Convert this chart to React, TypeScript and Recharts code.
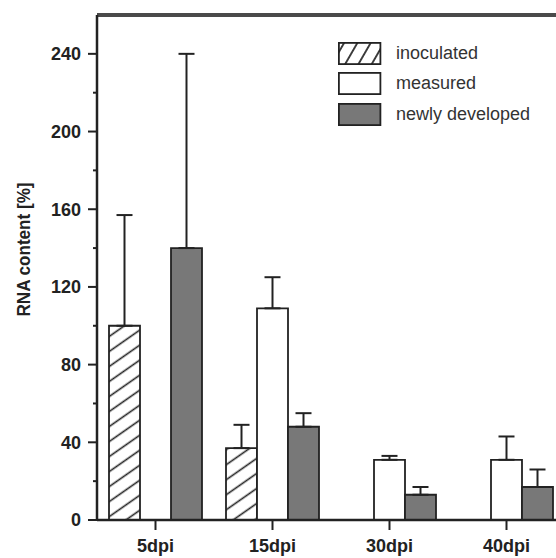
import React from "react";
import { BarChart, Bar, XAxis, YAxis, ErrorBar, ReferenceLine, Legend } from "recharts";

const categories = ["5dpi", "15dpi", "30dpi", "40dpi"];

// bar heights in % (null = no bar)
const inoculated = [100, 37, null, null];
const measured = [null, 109, 31, 31];
const newlyDeveloped = [140, 48, 13, 17];

// upper error (only drawn upwards)
const inoculatedErr = [57, 12, null, null];
const measuredErr = [null, 16, 2, 12];
const newlyDevelopedErr = [100, 7, 4, 9];

const yTicks = [0, 20, 40, 60, 80, 100, 120, 140, 160, 180, 200, 220, 240];
const yMax = 260;

const data = categories.map((name, i) => ({
  name,
  inoculated: inoculated[i],
  measured: measured[i],
  newlyDeveloped: newlyDeveloped[i],
  inoculatedErr: inoculatedErr[i],
  measuredErr: measuredErr[i],
  newlyDevelopedErr: newlyDevelopedErr[i],
}));

const INK = "#222";
const GREY = "#787878";
const FONT = "Arial, 'Liberation Sans', Helvetica, sans-serif";
const TICK_SIZE = 9;
const TICK_MARGIN = 7;

// one-sided error: [below, above]
const upErr = (key: string) => (d: any) => (d[key] == null ? null : [0, d[key]]);

function YTick(props: any) {
  const { x, y, payload } = props;
  const v = payload.value;
  const axisX = x + TICK_MARGIN + TICK_SIZE;
  const major = v % 40 === 0;
  return (
    <g>
      <line x1={axisX} x2={axisX - (major ? TICK_SIZE : 4)} y1={y} y2={y} stroke={INK} strokeWidth={2} />
      {major && (
        <text x={x} y={y} dy="0.36em" textAnchor="end" fontFamily={FONT} fontWeight="bold" fontSize={18} fill={INK}>
          {v}
        </text>
      )}
    </g>
  );
}

function YLabel(props: any) {
  const vb = props.viewBox || { x: 0, y: 15, height: 505 };
  const cx = vb.x + 30;
  const cy = vb.y + vb.height / 2 - 18;
  return (
    <text
      x={cx}
      y={cy}
      transform={`rotate(-90, ${cx}, ${cy})`}
      textAnchor="middle"
      fontFamily={FONT}
      fontWeight="bold"
      fontSize={18}
      fill={INK}
      textLength={134}
      lengthAdjust="spacingAndGlyphs"
    >
      RNA content [%]
    </text>
  );
}

const legendItems = [
  { label: "inoculated", fill: "url(#hatchLegend)" },
  { label: "measured", fill: "#fff" },
  { label: "newly developed", fill: GREY },
];

function LegendBox() {
  return (
    <div style={{ fontFamily: FONT, fontSize: 18, color: "#333" }}>
      {legendItems.map((it, i) => (
        <div key={it.label} style={{ height: 30.5, display: "flex", alignItems: "center" }}>
          <svg width={44} height={23} style={{ display: "block" }}>
            {i === 0 && (
              <defs>
                <pattern id="hatchLegend" patternUnits="userSpaceOnUse" width={10} height={11.5} patternTransform="rotate(-60)">
                  <rect width={10} height={11.5} fill="#fff" />
                  <line x1={0} x2={10} y1={5.75} y2={5.75} stroke={INK} strokeWidth={1.7} />
                </pattern>
              </defs>
            )}
            <rect x={0.9} y={0.9} width={41.5} height={21.2} fill={it.fill} stroke={INK} strokeWidth={1.8} />
          </svg>
          <span style={{ marginLeft: 14, whiteSpace: "nowrap" }}>{it.label}</span>
        </div>
      ))}
    </div>
  );
}

export default function App() {
  return (
    <div style={{ position: "absolute", left: 0, top: 0, width: 556, height: 558, overflow: "hidden", background: "#fff" }}>
      <BarChart
        width={570}
        height={558}
        data={data}
        margin={{ top: 15, right: 5, bottom: 0, left: 0 }}
        barCategoryGap={12}
        barGap={0}
      >
        <defs>
          <pattern id="hatchBar" patternUnits="userSpaceOnUse" width={10} height={12.3} patternTransform="rotate(-35)">
            <rect width={10} height={12.3} fill="#fff" />
            <line x1={0} x2={10} y1={6.15} y2={6.15} stroke={INK} strokeWidth={1.6} />
          </pattern>
        </defs>
        <XAxis
          dataKey="name"
          axisLine={{ stroke: INK, strokeWidth: 2.5 }}
          tickLine={{ stroke: INK, strokeWidth: 2 }}
          tickSize={10}
          tickMargin={9}
          height={38}
          tick={{ fontFamily: FONT, fontWeight: "bold", fontSize: 18, fill: INK }}
          interval={0}
        />
        <YAxis
          domain={[0, yMax]}
          ticks={yTicks}
          width={97}
          axisLine={{ stroke: INK, strokeWidth: 2.5 }}
          tickLine={false}
          tickSize={TICK_SIZE}
          tickMargin={TICK_MARGIN}
          tick={<YTick />}
          interval={0}
          label={<YLabel />}
        />
        <ReferenceLine y={yMax} stroke="#4a4a4a" strokeWidth={4} />
        <Bar dataKey="inoculated" fill="url(#hatchBar)" stroke={INK} strokeWidth={1.8} isAnimationActive={false}>
          <ErrorBar dataKey={upErr("inoculatedErr")} width={8} stroke={INK} strokeWidth={2} direction="y" />
        </Bar>
        <Bar dataKey="measured" fill="#fff" stroke={INK} strokeWidth={1.8} isAnimationActive={false}>
          <ErrorBar dataKey={upErr("measuredErr")} width={8} stroke={INK} strokeWidth={2} direction="y" />
        </Bar>
        <Bar dataKey="newlyDeveloped" fill={GREY} stroke={INK} strokeWidth={1.8} isAnimationActive={false}>
          <ErrorBar dataKey={upErr("newlyDevelopedErr")} width={8} stroke={INK} strokeWidth={2} direction="y" />
        </Bar>
        <Legend
          layout="vertical"
          align="center"
          verticalAlign="middle"
          wrapperStyle={{ left: 338, top: 37.75, width: 220 }}
          content={<LegendBox />}
        />
      </BarChart>
    </div>
  );
}
